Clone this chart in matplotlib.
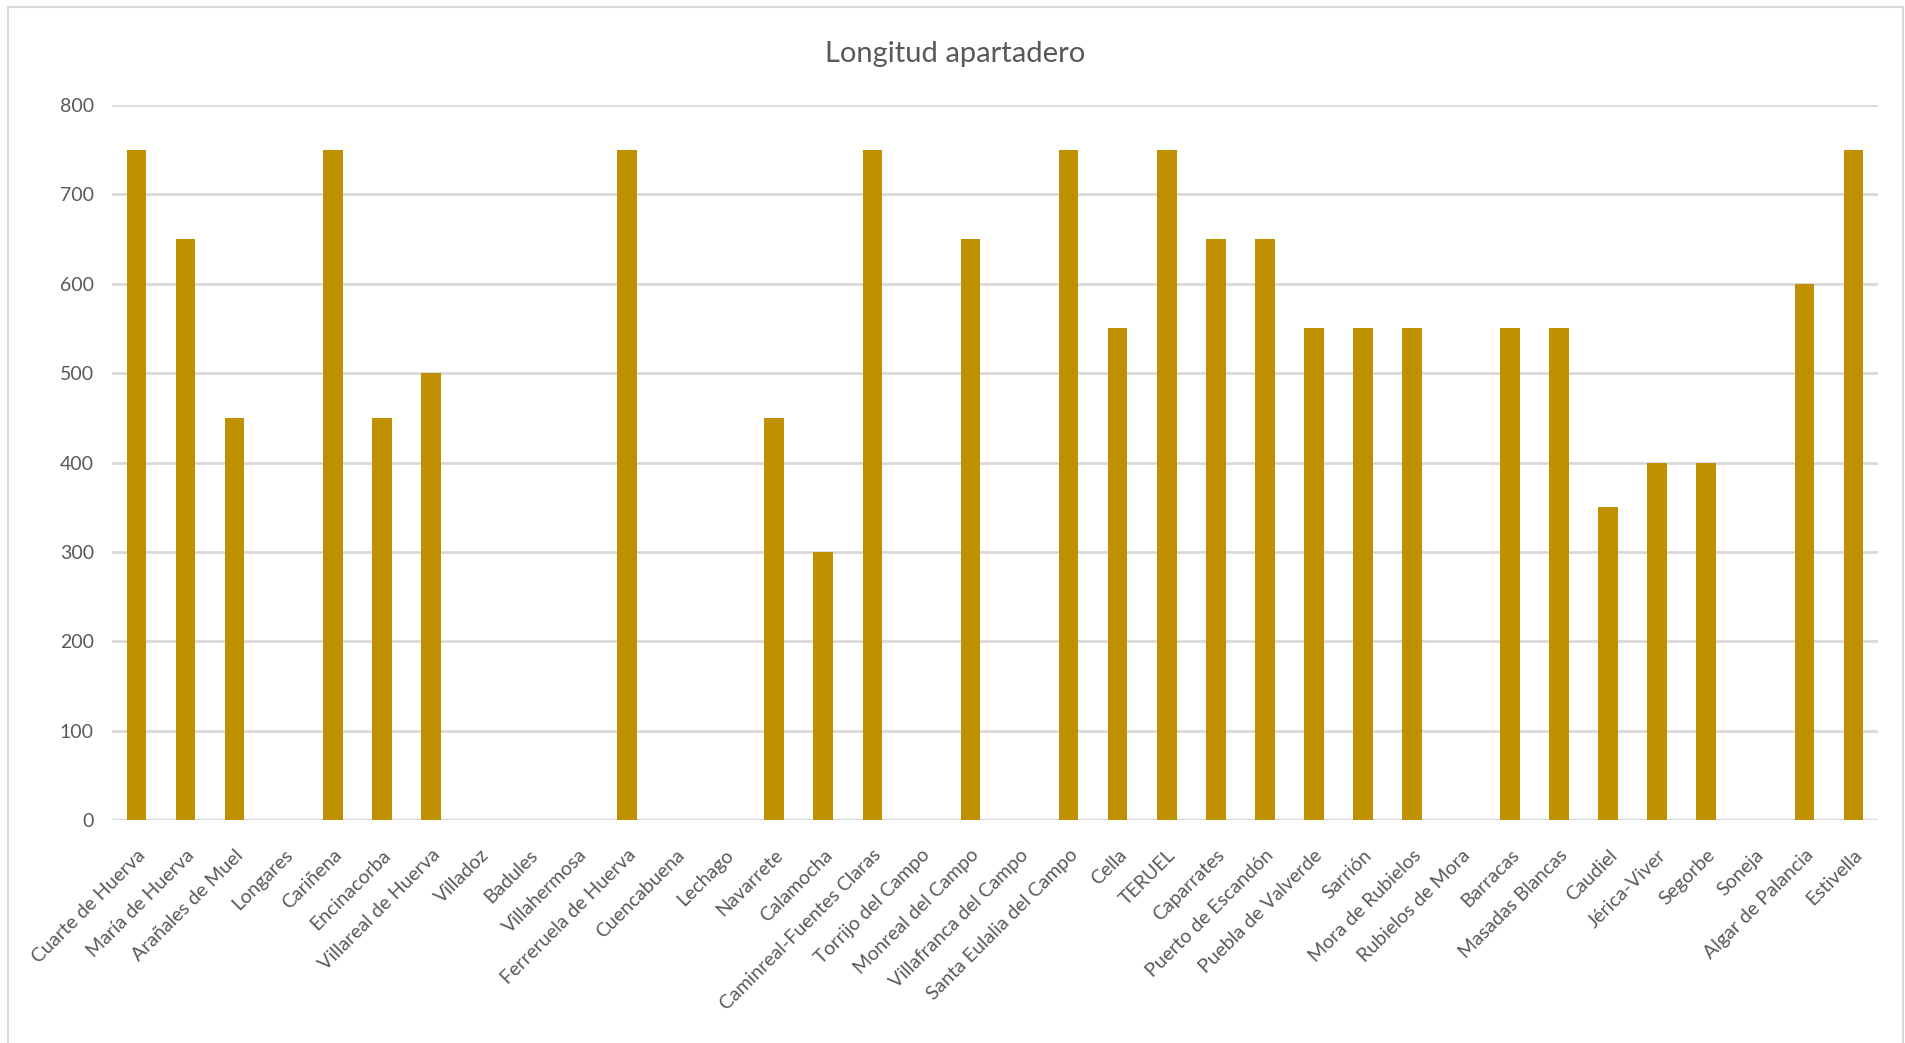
import matplotlib
matplotlib.use("Agg")
import matplotlib.pyplot as plt
from matplotlib.patches import Rectangle
import numpy as np

# Longitud de apartaderos por estación (m)
estaciones = [
    "Cuarte de Huerva", "María de Huerva", "Arañales de Muel", "Longares",
    "Cariñena", "Encinacorba", "Villareal de Huerva", "Villadoz", "Badules",
    "Villahermosa", "Ferreruela de Huerva", "Cuencabuena", "Lechago",
    "Navarrete", "Calamocha", "Caminreal-Fuentes Claras", "Torrijo del Campo",
    "Monreal del Campo", "Villafranca del Campo", "Santa Eulalia del Campo",
    "Cella", "TERUEL", "Caparrates", "Puerto de Escandón", "Puebla de Valverde",
    "Sarrión", "Mora de Rubielos", "Rubielos de Mora", "Barracas",
    "Masadas Blancas", "Caudiel", "Jérica-Viver", "Segorbe", "Soneja",
    "Algar de Palancia", "Estivella",
]
longitud = [
    750, 650, 450, 0, 750, 450, 500, 0, 0, 0, 750, 0, 0, 450, 300, 750, 0,
    650, 0, 750, 550, 750, 650, 650, 550, 550, 550, 0, 550, 550, 350, 400,
    400, 0, 600, 750,
]
yticks = [0, 100, 200, 300, 400, 500, 600, 700, 800]

GOLD = "#BF9000"
TXT = "#595959"
GRID = "#D9D9D9"

plt.rcParams["font.family"] = ["Lato", "DejaVu Sans"]

fig = plt.figure(figsize=(19.05, 10.43), dpi=100)
fig.patch.set_facecolor("white")

# marco del gráfico
fig.patches.append(Rectangle((8 / 1905, -0.02), (1903 - 8) / 1905, 1.02 - 7 / 1043,
                             transform=fig.transFigure, fill=False,
                             edgecolor=GRID, linewidth=1.5))

ax = fig.add_axes([112 / 1905, 1 - 820 / 1043, (1878 - 112) / 1905, (820 - 105) / 1043])
x = np.arange(len(estaciones))
ax.bar(x, longitud, width=0.40, color=GOLD, zorder=3)

ax.set_xlim(-0.5, len(estaciones) - 0.5)
ax.set_ylim(0, 800)
ax.set_yticks(yticks)
ax.grid(axis="y", color=GRID, linewidth=2, zorder=0)
for s in ax.spines.values():
    s.set_visible(False)
ax.axhline(0, color=GRID, linewidth=2.5, zorder=2)

ax.tick_params(axis="y", length=0, pad=13, labelsize=14, labelcolor=TXT)
ax.tick_params(axis="x", length=0, pad=19, labelsize=14, labelcolor=TXT)
ax.set_xticks(x)
ax.set_xticklabels(estaciones, rotation=45, ha="right", va="top",
                   rotation_mode="anchor")

fig.text(955 / 1905, 1 - 54 / 1043, "Longitud apartadero", ha="center",
         va="center", fontsize=21, color=TXT)

fig.savefig("out.png", dpi=100, facecolor="white")
